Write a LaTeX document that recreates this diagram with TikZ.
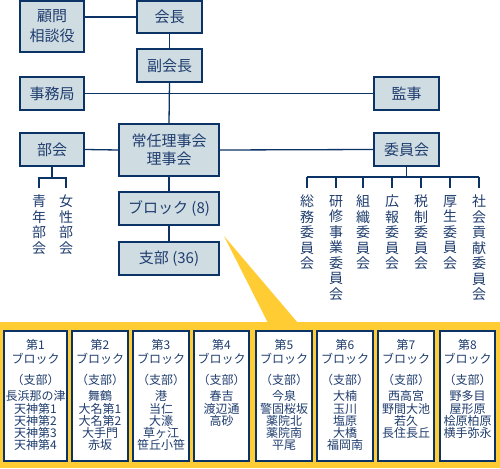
\documentclass[tikz,border=0pt]{standalone}
\usepackage{fontspec}
\setmainfont{Noto Sans CJK JP}
\definecolor{navy}{HTML}{0B3366}
\definecolor{txt}{HTML}{1F3D6E}
\definecolor{boxfill}{HTML}{CFDCE2}
\definecolor{ylw}{HTML}{FFCC33}
\tikzset{
 orgbox/.style={draw=navy, fill=boxfill, line width=1.3pt, inner sep=0pt, text=txt, font=\fontsize{15}{17}\selectfont, align=center},
 conn/.style={draw=navy, line width=1.3pt},
 vtext/.style={text=txt, font=\fontsize{14}{15.5}\selectfont, align=center, inner sep=0pt, anchor=north},
 blkbox/.style={draw=navy, fill=white, line width=1.3pt, inner sep=0pt, minimum height=130pt},
 blktext/.style={text=txt, font=\fontsize{12}{12.3}\selectfont, align=center, inner sep=0pt, anchor=north},
}
\begin{document}
\begin{tikzpicture}[x=1pt,y=-1pt]
\useasboundingbox (0,0) rectangle (500,468);
% yellow panel and pointer
\fill[ylw] (0,322) rectangle (500,468);
\fill[ylw] (224,236) -- (268,323) -- (298,323) -- cycle;
% top boxes
\node[orgbox, minimum width=64pt, minimum height=51pt, font=\fontsize{15}{20}\selectfont] (komon) at (52,26.5) {顧問\\相談役};
\node[orgbox, minimum width=65pt, minimum height=32pt] (kaicho) at (169.5,17) {会長};
\node[orgbox, minimum width=65pt, minimum height=33pt] (fuku) at (169.5,65.5) {副会長};
\node[orgbox, minimum width=64pt, minimum height=33pt] (jimu) at (52,93.5) {事務局};
\node[orgbox, minimum width=65pt, minimum height=33pt] (kanji) at (406.5,93.5) {監事};
\node[orgbox, minimum width=100pt, minimum height=52pt, font=\fontsize{15}{18}\selectfont] (jonin) at (169,150) {常任理事会\\理事会};
\node[orgbox, minimum width=64pt, minimum height=33pt] (bukai) at (52,149.5) {部会};
\node[orgbox, minimum width=65pt, minimum height=33pt] (iinkai) at (406.5,149.5) {委員会};
\node[orgbox, minimum width=100pt, minimum height=33pt] (block) at (169,208.5) {ブロック (8)};
\node[orgbox, minimum width=100pt, minimum height=33pt] (shibu) at (169,258.5) {支部 (36)};
% connectors
\draw[conn] (kaicho.west) -- (kaicho.west -| komon.east);
\draw[conn] (kaicho.south) -- (fuku.north);
\draw[conn] (fuku.south) -- (jonin.north);
\draw[conn] (jimu.east) -- (kanji.west);
\draw[conn] (bukai.east) -- (jonin.west);
\draw[conn] (jonin.east) -- (iinkai.west);
\draw[conn] (jonin.south) -- (block.north);
\draw[conn] (block.south) -- (shibu.north);
% bukai branch
\coordinate (bj) at (52,178);
\coordinate (b1) at (39,178);
\coordinate (b2) at (66,178);
\coordinate (b1e) at (39,188);
\coordinate (b2e) at (66,188);
\draw[conn] (bukai.south) -- (bj);
\draw[conn] (b1e) -- (b1) -- (b2) -- (b2e);
\node[vtext] (seinen) at (39,195) {青\\年\\部\\会};
\node[vtext] (josei) at (66,195) {女\\性\\部\\会};
% iinkai branch
\coordinate (ij) at (406.5,177);
\draw[conn] (iinkai.south) -- (ij);
\draw[conn] (307,177) -- (479,177);
\foreach \x/\n in {307/c1,336/c2,363/c3,392/c4,421/c5,450/c6,479/c7}{
  \coordinate (\n) at (\x,188);
  \draw[conn] (\x,177) -- (\n);
}
\node[vtext] (somu) at (307,195) {総\\務\\委\\員\\会};
\node[vtext] (kenshu) at (336,195) {研\\修\\事\\業\\委\\員\\会};
\node[vtext] (soshiki) at (363,195) {組\\織\\委\\員\\会};
\node[vtext] (koho) at (392,195) {広\\報\\委\\員\\会};
\node[vtext] (zeisei) at (421,195) {税\\制\\委\\員\\会};
\node[vtext] (kosei) at (450,195) {厚\\生\\委\\員\\会};
\node[vtext] (shakai) at (479,195) {社\\会\\貢\\献\\委\\員\\会};
% blocks
\node[blkbox, minimum width=63pt] (k1) at (35.5,396) {};
\node[blkbox, minimum width=56pt] (k2) at (100,396) {};
\node[blkbox, minimum width=56pt] (k3) at (161,396) {};
\node[blkbox, minimum width=55pt] (k4) at (221.5,396) {};
\node[blkbox, minimum width=56pt] (k5) at (284,396) {};
\node[blkbox, minimum width=56pt] (k6) at (345,396) {};
\node[blkbox, minimum width=56pt] (k7) at (406,396) {};
\node[blkbox, minimum width=55pt] (k8) at (467.5,396) {};
\node[blktext] (t1) at (35.5,339.5) {第1\\[1.5pt]ブロック\\[9pt]（支部）\\[3.5pt]長浜那の津\\天神第1\\天神第2\\天神第3\\天神第4};
\node[blktext] (t2) at (100,339.5) {第2\\[1.5pt]ブロック\\[9pt]（支部）\\[3.5pt]舞鶴\\大名第1\\大名第2\\大手門\\赤坂};
\node[blktext] (t3) at (161,339.5) {第3\\[1.5pt]ブロック\\[9pt]（支部）\\[3.5pt]港\\当仁\\大濠\\草ヶ江\\笹丘小笹};
\node[blktext] (t4) at (221.5,339.5) {第4\\[1.5pt]ブロック\\[9pt]（支部）\\[3.5pt]春吉\\渡辺通\\高砂};
\node[blktext] (t5) at (284,339.5) {第5\\[1.5pt]ブロック\\[9pt]（支部）\\[3.5pt]今泉\\警固桜坂\\薬院北\\薬院南\\平尾};
\node[blktext] (t6) at (345,339.5) {第6\\[1.5pt]ブロック\\[9pt]（支部）\\[3.5pt]大楠\\玉川\\塩原\\大橋\\福岡南};
\node[blktext] (t7) at (406,339.5) {第7\\[1.5pt]ブロック\\[9pt]（支部）\\[3.5pt]西高宮\\野間大池\\若久\\長住長丘};
\node[blktext] (t8) at (467.5,339.5) {第8\\[1.5pt]ブロック\\[9pt]（支部）\\[3.5pt]野多目\\屋形原\\桧原柏原\\横手弥永};
\end{tikzpicture}
\end{document}
